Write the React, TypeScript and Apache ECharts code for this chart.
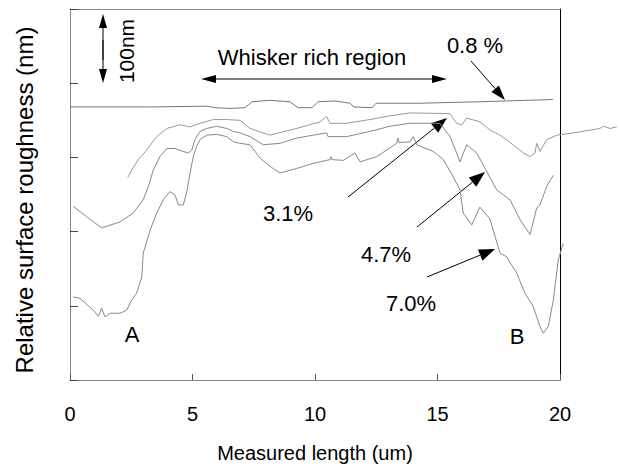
import React, { useEffect, useRef } from "react";
import * as echarts from "echarts";

// Measured length (um) and relative surface roughness (nm)
const xTicks = [0, 5, 10, 15, 20];

const s08x = [0, 3.27, 5.59, 5.92, 6.53, 7.14, 7.43, 8.16, 8.98, 9.31, 9.88, 10.12, 10.82, 11.43, 11.59, 12.33, 12.49, 14.29, 16.73, 19.71];
const s08y = [368, 368, 369, 367, 366, 367, 375, 377, 375, 367, 367, 375, 376, 373, 368, 367, 373, 373, 375, 378];

const s31x = [2.36, 2.52, 2.79, 3.13, 3.54, 3.95, 4.49, 4.9, 5.31, 5.85, 6.4, 6.94, 7.35, 8.16, 9.25, 10.2, 10.48, 10.61, 11.29, 12.24, 13.06, 13.88, 15.51, 15.78, 15.99, 16.19, 16.73, 17.14, 17.55, 18.09, 18.5, 18.78, 18.98, 19.05, 19.18, 19.46, 19.87, 20.54, 21.63, 21.77, 22.04, 22.31];
const s31y = [273, 283, 297, 310, 328, 339, 344, 341, 346, 351, 351, 350, 339, 330, 339, 348, 355, 346, 346, 351, 356, 360, 359, 346, 344, 353, 348, 337, 330, 317, 306, 301, 306, 319, 308, 324, 330, 333, 339, 342, 339, 341];

const s47x = [0.13, 0.68, 1.29, 2.04, 2.58, 2.99, 3.2, 3.4, 3.67, 3.95, 4.29, 4.62, 4.83, 4.97, 5.1, 5.31, 5.58, 5.99, 6.4, 6.67, 6.94, 7.35, 7.89, 8.57, 9.25, 9.93, 10.48, 10.53, 11.29, 12.24, 13.06, 13.88, 15.1, 15.51, 15.78, 15.92, 16.19, 16.6, 17.42, 17.96, 18.37, 18.78, 19.05, 19.18, 19.46, 19.73];
const s47y = [234, 220, 205, 213, 225, 243, 261, 283, 301, 312, 312, 308, 306, 310, 324, 335, 339, 342, 339, 335, 333, 328, 317, 319, 326, 330, 333, 328, 328, 335, 342, 346, 346, 328, 306, 294, 317, 306, 256, 243, 216, 196, 232, 236, 261, 276];

const s70x = [0.13, 0.41, 0.95, 1.16, 1.29, 1.43, 1.63, 2.04, 2.31, 2.52, 2.72, 2.93, 2.99, 3.27, 3.54, 3.81, 4.08, 4.29, 4.42, 4.62, 4.76, 4.9, 5.03, 5.17, 5.31, 5.58, 5.99, 6.4, 6.67, 6.94, 7.35, 7.76, 8.16, 8.57, 9.25, 9.93, 10.61, 10.65, 10.69, 11.16, 11.63, 11.84, 12.52, 12.93, 13.33, 13.39, 13.43, 13.88, 14.01, 14.15, 14.83, 15.24, 15.64, 15.92, 16.05, 16.4, 16.73, 17.14, 17.55, 17.82, 18.23, 18.57, 18.91, 19.18, 19.32, 19.52, 19.73, 19.93, 20.13];
const s70y = [112, 110, 94, 86, 97, 85, 90, 90, 94, 108, 117, 139, 171, 202, 225, 243, 254, 249, 236, 236, 252, 279, 301, 315, 324, 330, 331, 328, 321, 319, 317, 299, 288, 279, 285, 292, 297, 301, 297, 296, 306, 294, 301, 310, 319, 326, 320, 321, 328, 317, 308, 297, 274, 256, 225, 209, 233, 217, 171, 166, 144, 117, 99, 72, 63, 72, 108, 162, 184];

const zip = (xs: number[], ys: number[]) => xs.map((x, i) => [x, ys[i]]);

const FONT = "'Liberation Sans', Arial, Helvetica, sans-serif";

// the data window extends past the plotted frame (profiles run beyond 20 um)
const X_FRAME_MAX = 20;
const X_DATA_MAX = 22.4;
const PX_PER_UM = 24.5;

function arrow(x1: number, y1: number, x2: number, y2: number, len = 15, half = 5): any[] {
  const dx = x2 - x1;
  const dy = y2 - y1;
  const d = Math.sqrt(dx * dx + dy * dy);
  const ux = dx / d;
  const uy = dy / d;
  const bx = x2 - ux * len;
  const by = y2 - uy * len;
  const px = -uy;
  const py = ux;
  return [
    { type: "line", silent: true, shape: { x1, y1, x2: bx, y2: by }, style: { stroke: "#000", lineWidth: 1 } },
    {
      type: "polygon",
      silent: true,
      shape: { points: [[x2, y2], [bx + px * half, by + py * half], [bx - px * half, by - py * half]] },
      style: { fill: "#000" },
    },
  ];
}

function label(text: string, x: number, y: number, size = 22, rotation = 0): any {
  return {
    type: "text",
    x,
    y,
    rotation,
    silent: true,
    style: {
      text,
      fill: "#000",
      fontSize: size,
      fontFamily: FONT,
      align: "center",
      verticalAlign: "middle",
      textAlign: "center",
      textVerticalAlign: "middle",
    },
  };
}

export default function App() {
  const ref = useRef<HTMLDivElement>(null);
  useEffect(() => {
    if (!ref.current) return;
    const chart = echarts.init(ref.current, null, { renderer: "svg" });
    const lineStyle = (c: string) => ({ color: c, width: 1 });
    const graphics: any[] = [
      label("Relative surface roughness (nm)", 24, 200, 24, Math.PI / 2),
      // 100nm scale bar
      ...arrow(103, 60, 103, 14, 14, 4),
      ...arrow(103, 40, 103, 83, 14, 4),
      label("100nm", 126, 51, 21, Math.PI / 2),
      // whisker rich region
      label("Whisker rich region", 312, 57, 22),
      ...arrow(320, 79, 201, 79, 15, 4),
      ...arrow(320, 79, 447, 79, 15, 4),
      label("0.8 %", 475, 45, 22),
      ...arrow(471, 61, 505, 100, 15, 5),
      label("3.1%", 288, 213, 22),
      ...arrow(348, 197, 447, 118, 16, 6),
      label("4.7%", 386, 254, 22),
      ...arrow(417, 227, 485, 172, 16, 6),
      label("7.0%", 411, 303, 22),
      ...arrow(427, 277, 495, 249, 16, 6),
      label("A", 132, 334, 22),
      label("B", 517, 336, 22),
    ];
    const ser = (name: string, xs: number[], ys: number[], c: string) => ({
      name,
      type: "line",
      xAxisIndex: 2,
      yAxisIndex: 2,
      data: zip(xs, ys),
      showSymbol: false,
      symbol: "none",
      lineStyle: lineStyle(c),
    });
    chart.setOption({
      animation: false,
      backgroundColor: "#fff",
      grid: [
        { left: 70, top: 9, width: X_FRAME_MAX * PX_PER_UM, height: 371 },
        { left: 70, top: 9, width: X_DATA_MAX * PX_PER_UM, height: 371 },
      ],
      xAxis: [
        {
          gridIndex: 0,
          type: "value",
          min: xTicks[0],
          max: xTicks[xTicks.length - 1],
          interval: 5,
          name: "Measured length (um)",
          nameLocation: "middle",
          nameGap: 63,
          nameTextStyle: { color: "#000", fontSize: 20, fontFamily: FONT },
          axisLine: { onZero: false, lineStyle: { color: "#888", width: 1 } },
          axisTick: { inside: true, length: 6, lineStyle: { color: "#555" } },
          axisLabel: { color: "#000", fontSize: 20, fontFamily: FONT, margin: 24 },
          splitLine: { show: false },
        },
        {
          gridIndex: 0,
          type: "value",
          position: "top",
          min: 0,
          max: 20,
          axisLine: { show: true, onZero: false, lineStyle: { color: "#888", width: 1 } },
          axisTick: { show: false },
          axisLabel: { show: false },
          splitLine: { show: false },
        },
        {
          gridIndex: 1,
          type: "value",
          min: 0,
          max: X_DATA_MAX,
          show: false,
        },
      ],
      yAxis: [
        {
          gridIndex: 0,
          type: "value",
          min: 0,
          max: 500,
          interval: 100,
          axisLine: { show: true, onZero: false, lineStyle: { color: "#888", width: 1 } },
          axisTick: { show: true, inside: true, length: 8, lineStyle: { color: "#444" } },
          axisLabel: { show: false },
          splitLine: { show: false },
        },
        {
          gridIndex: 0,
          type: "value",
          position: "right",
          min: 0,
          max: 500,
          axisLine: { show: true, onZero: false, lineStyle: { color: "#000", width: 1 } },
          axisTick: { show: false },
          axisLabel: { show: false },
          splitLine: { show: false },
        },
        {
          gridIndex: 1,
          type: "value",
          min: 0,
          max: 500,
          show: false,
        },
      ],
      series: [
        ser("0.8 %", s08x, s08y, "#777"),
        ser("3.1%", s31x, s31y, "#999"),
        ser("4.7%", s47x, s47y, "#888"),
        ser("7.0%", s70x, s70y, "#888"),
      ],
      graphic: graphics,
    });
    return () => chart.dispose();
  }, []);
  return (
    <div
      ref={ref}
      style={{ position: "fixed", left: 0, top: 0, width: 620, height: 469, background: "#fff" }}
    />
  );
}
